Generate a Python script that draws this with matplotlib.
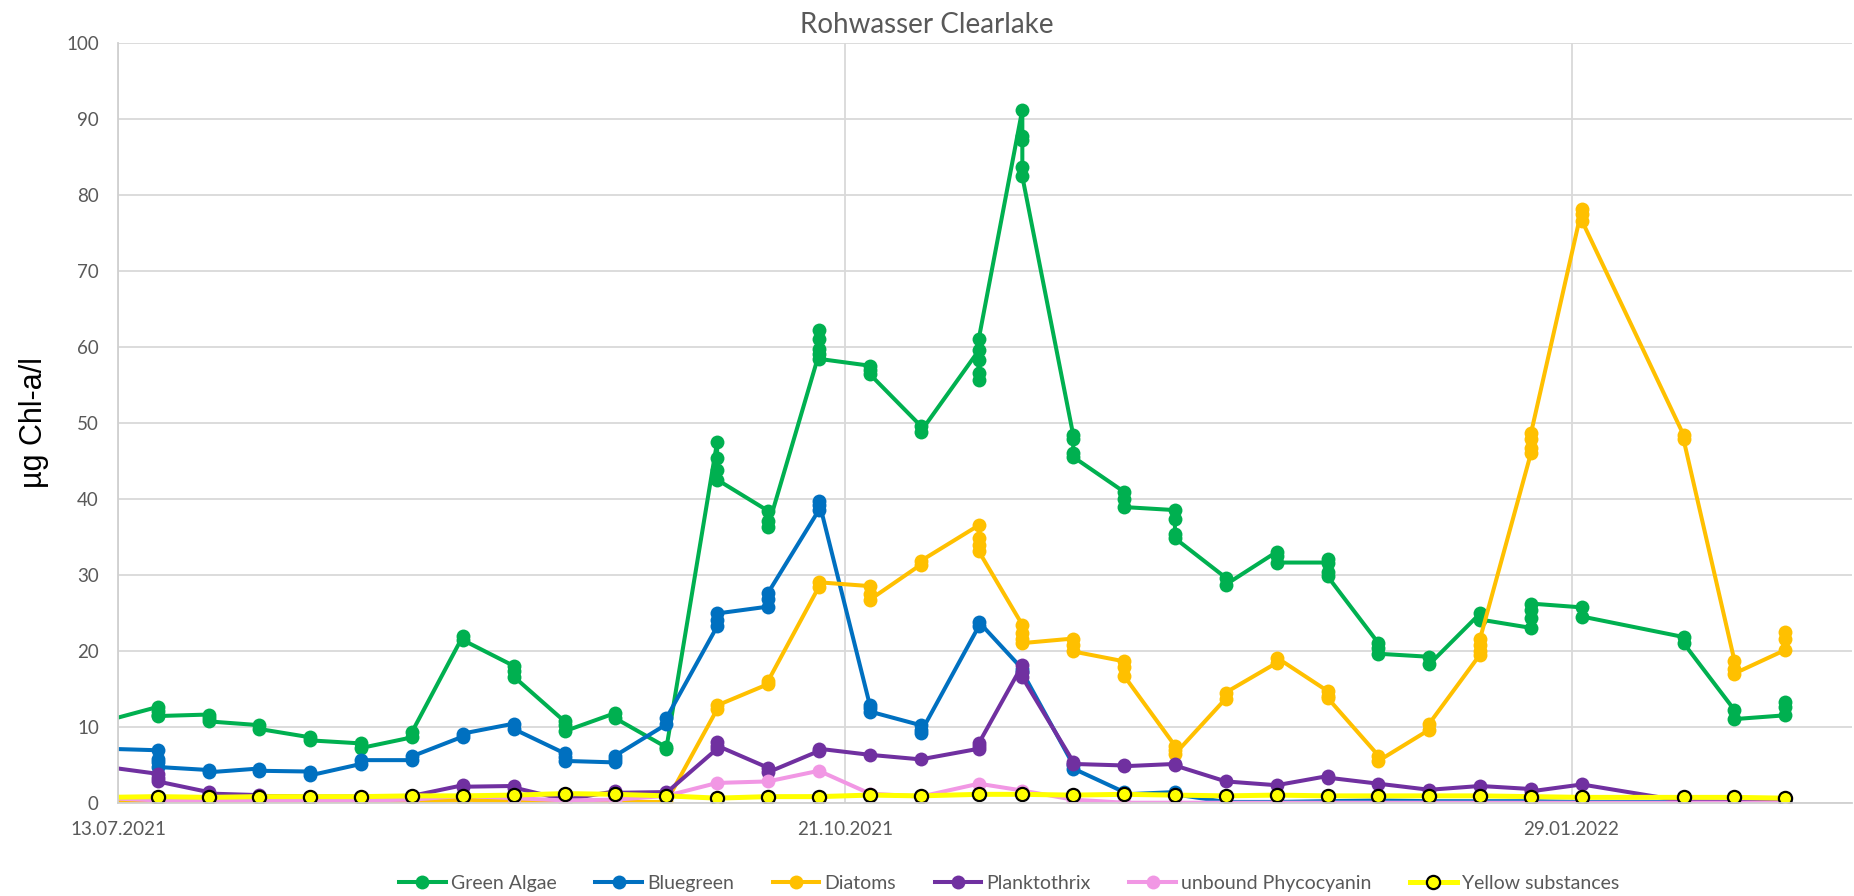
import matplotlib
matplotlib.use('Agg')
import matplotlib.pyplot as plt
import matplotlib.dates as mdates
import pandas as pd

plt.rcParams['font.family'] = ['Lato', 'DejaVu Sans']

# sampling days (one column of stacked measurements per day)
sample_dates = ['2021-07-11', '2021-07-18', '2021-07-25', '2021-08-01', '2021-08-08',
                '2021-08-15', '2021-08-22', '2021-08-29', '2021-09-05', '2021-09-12',
                '2021-09-19', '2021-09-26', '2021-10-03', '2021-10-10', '2021-10-17',
                '2021-10-24', '2021-10-31', '2021-11-08', '2021-11-14', '2021-11-21',
                '2021-11-28', '2021-12-05', '2021-12-12', '2021-12-19', '2021-12-26',
                '2022-01-02', '2022-01-09', '2022-01-16', '2022-01-23', '2022-01-30',
                '2022-02-13', '2022-02-20', '2022-02-27']

green = [[10.8], [12.6, 12.1, 11.5, 11.4], [11.6, 11.1, 10.7], [10.2, 9.7], [8.6, 8.2],
         [7.8, 7.2], [8.6, 9.3], [21.9, 21.4], [18.0, 17.3, 16.6], [10.7, 10.2, 9.4],
         [11.8, 11.1], [7.3, 7.1], [47.5, 45.4, 43.8, 42.5], [38.4, 37.1, 36.3],
         [59.0, 62.2, 61.0, 59.7, 58.4], [57.5, 56.9, 56.4], [49.6, 48.8],
         [59.5, 55.6, 56.5, 58.2, 61.0], [91.2, 87.7, 87.2, 83.7, 82.4],
         [48.4, 47.8, 46.0, 45.5], [40.9, 40.0, 38.9], [38.5, 37.3, 35.4, 34.8],
         [29.6, 28.7], [33.0, 32.4, 31.6], [31.6, 32.1, 30.3, 29.8], [21.0, 20.3, 19.6],
         [19.2, 18.2], [24.9, 24.1], [23.0, 24.3, 25.3, 26.2], [25.7, 24.5],
         [21.8, 21.0], [12.2, 11.0], [11.5, 12.6, 13.3]]

bluegreen = [[7.1], [6.9, 5.8, 5.3, 4.7], [4.3, 4.0], [4.5, 4.2], [4.1, 3.6], [5.1, 5.6],
             [5.6, 6.1], [8.7, 9.1], [10.4, 9.7], [6.5, 6.0, 5.5], [5.3, 5.7, 6.2],
             [10.3, 11.1], [23.2, 24.1, 24.9], [25.8, 26.8, 27.6], [38.5, 39.2, 39.7],
             [12.9, 12.4, 12.0], [10.2, 9.6, 9.2], [23.2, 23.8], [17.6, 17.2], [5.0, 4.5],
             [1.4, 1.1], [1.4, 1.1], [0.1], [0.1], [0.2], [0.3], [0.2], [0.2], [0.2],
             [0.1], [0.1], [0.1], [0.1]]

diatoms = [[0.1], [0.1], [0.1], [0.1], [0.1], [0.1], [0.1], [0.4], [0.2], [0.1], [0.1],
           [0.1], [12.3, 12.8], [15.6, 16.0], [28.4, 29.0], [28.5, 27.5, 26.7],
           [31.3, 31.8], [36.5, 34.8, 33.9, 33.1], [23.4, 22.3, 21.5, 21.0],
           [21.6, 20.8, 19.9], [18.6, 17.8, 16.7], [7.5, 7.0, 6.4], [13.7, 14.5],
           [18.4, 19.1], [14.7, 14.1, 13.8], [6.2, 5.5], [9.6, 10.4],
           [19.5, 20.0, 20.8, 21.6], [46.0, 46.7, 47.8, 48.6], [78.1, 77.5, 76.6],
           [48.4, 47.8], [18.7, 17.6, 17.0], [20.1, 21.6, 22.4]]

planktothrix = [[4.7], [3.8, 3.3, 2.8], [1.4, 1.2], [1.0, 0.9], [0.8], [0.8], [0.9],
                [2.3, 2.1], [2.2, 2.0], [0.4], [1.5, 1.3], [1.4, 1.3], [7.1, 8.0, 7.5],
                [4.6, 4.0], [6.8, 7.1], [6.3], [5.7], [7.1, 7.4, 7.8], [18.1, 17.2, 16.5],
                [5.4, 5.1], [4.9, 4.8], [5.1, 4.9], [2.8], [2.3], [3.5, 3.3], [2.5], [1.7],
                [2.2], [1.8, 1.5], [2.4], [0.2], [0.1], [0.1]]

phycocyanin = [0.6, 0.3, 0.3, 0.3, 0.3, 0.3, 0.4, 0.9, 0.6, 0.3, 0.4, 0.9, 2.6, 2.8, 4.2,
               1.2, 0.8, 2.5, 1.6, 0.4, 0.0, 0.0, 0.0, 0.0, 0.0, 0.0, 0.0, 0.0, 0.0, 0.0,
               0.0, 0.0, 0.0]

yellow = [0.7, 0.8, 0.7, 0.8, 0.8, 0.8, 0.9, 0.9, 1.0, 1.2, 1.1, 0.9, 0.6, 0.8, 0.8, 1.0,
          0.9, 1.1, 1.1, 1.0, 1.1, 1.0, 0.9, 1.0, 0.9, 0.9, 0.9, 0.9, 0.8, 0.7, 0.7, 0.7, 0.6]

labels = ['Green Algae', 'Bluegreen', 'Diatoms', 'Planktothrix', 'unbound Phycocyanin',
          'Yellow substances']
colors = ['#00B050', '#0070C0', '#FFC000', '#7030A0', '#F197E4', '#FFFF00']

times = pd.to_datetime(sample_dates) + pd.Timedelta(hours=10)


def flatten(series):
    xs, ys = [], []
    for t, vals in zip(times, series):
        if not isinstance(vals, list):
            vals = [vals]
        for v in vals:
            xs.append(t)
            ys.append(v)
    return xs, ys


W, H = 1854, 896
fig = plt.figure(figsize=(W / 100, H / 100), dpi=100)
ax = fig.add_axes([118.3 / W, (H - 802.7) / H, (1852 - 118.3) / W, 760 / H])

all_series = [green, bluegreen, diatoms, planktothrix, phycocyanin, yellow]
for series, lab, col in zip(all_series, labels, colors):
    xs, ys = flatten(series)
    if lab == 'Yellow substances':
        ax.plot(xs, ys, color=col, lw=3.6, marker='o', ms=9.5, mfc=col, mec='black',
                mew=1.6, label=lab)
    else:
        ax.plot(xs, ys, color=col, lw=2.9, marker='o', ms=10, mfc=col, mec=col,
                mew=0, label=lab)

start = pd.Timestamp('2021-07-13')
ax.set_xlim(start, start + pd.Timedelta(days=238.6))
ax.set_ylim(0, 100)
ax.set_yticks(range(0, 101, 10))
ax.set_xticks([start + pd.Timedelta(days=d) for d in (0, 100, 200)])
ax.xaxis.set_major_formatter(mdates.DateFormatter('%d.%m.%Y'))

ax.grid(True, color='#D9D9D9', lw=1.3)
ax.set_axisbelow(True)
for s in ['top', 'right']:
    ax.spines[s].set_visible(False)
for s in ['left', 'bottom']:
    ax.spines[s].set_color('#D0D0D0')
    ax.spines[s].set_linewidth(1.3)
ax.tick_params(length=0, labelsize=13.5, labelcolor='#595959')
ax.tick_params(axis='y', pad=14)
ax.tick_params(axis='x', pad=13)

fig.text(0.5, 1 - 33 / H, 'Rohwasser Clearlake', ha='center', va='baseline',
         fontsize=20, color='#595959')
fig.text(34 / W, 1 - 423 / H, 'µg Chl-a/l', rotation=90, ha='center', va='center',
         fontsize=22, color='black', family=['Liberation Sans', 'DejaVu Sans'])

handles, labs = ax.get_legend_handles_labels()
fig.legend(handles, labs, loc='center', bbox_to_anchor=(1009 / W, 1 - 883 / H), ncol=6,
           frameon=False, fontsize=14, labelcolor='#595959', handlelength=2.4,
           handletextpad=0.25, columnspacing=2.0, numpoints=1)

fig.savefig('out.png', dpi=100)
